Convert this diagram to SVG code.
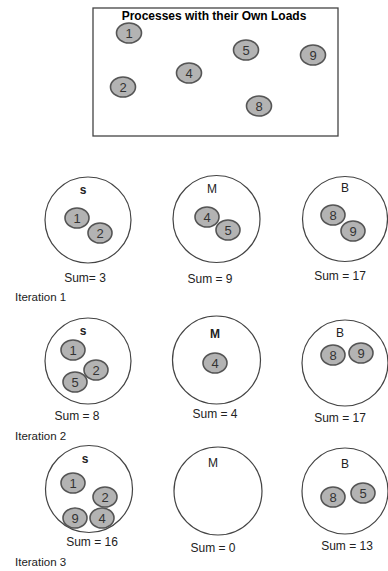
<svg xmlns="http://www.w3.org/2000/svg" width="388" height="571" viewBox="0 0 388 571">
<style>
  text { font-family: "Liberation Sans", Arial, sans-serif; fill: #222; }
  .title { font-size: 12px; font-weight: bold; text-anchor: middle; fill: #000; }
  .box { fill: #fff; stroke: #444; stroke-width: 1.3; }
  .group { fill: #fff; stroke: #444; stroke-width: 1.2; }
  .proc { fill: #b3b3b3; stroke: #555; stroke-width: 1.6; }
  .num { font-size: 13px; text-anchor: middle; fill: #333; }
  .lbl { font-size: 12px; text-anchor: middle; }
  .lblb { font-size: 12px; text-anchor: middle; font-weight: bold; }
  .sum { font-size: 12px; text-anchor: middle; }
  .iter { font-size: 11.5px; }
</style>
<rect width="388" height="571" fill="#fff"/>

<g id="pool">
  <rect class="box" x="93" y="8" width="245" height="128"/>
  <text class="title" x="214" y="20">Processes with their Own Loads</text>
  <g id="pool-p1"><ellipse class="proc" cx="129" cy="33" rx="12.5" ry="10"/><text class="num" x="129" y="37.5">1</text></g>
  <g id="pool-p5"><ellipse class="proc" cx="246" cy="50" rx="12.5" ry="10"/><text class="num" x="246" y="54.5">5</text></g>
  <g id="pool-p9"><ellipse class="proc" cx="313" cy="55" rx="12.5" ry="10"/><text class="num" x="313" y="59.5">9</text></g>
  <g id="pool-p4"><ellipse class="proc" cx="189" cy="73" rx="12.5" ry="10"/><text class="num" x="189" y="77.5">4</text></g>
  <g id="pool-p2"><ellipse class="proc" cx="123" cy="87" rx="12.5" ry="10"/><text class="num" x="123" y="91.5">2</text></g>
  <g id="pool-p8"><ellipse class="proc" cx="259" cy="106" rx="12.5" ry="10"/><text class="num" x="259" y="110.5">8</text></g>
</g>

<g id="connectors"></g>

<!-- Iteration 1 -->
<g id="it1-S">
  <circle class="group" cx="88" cy="220" r="43"/>
  <text class="lblb" x="83" y="194">s</text>
  <ellipse class="proc" cx="77" cy="218" rx="12" ry="10"/><text class="num" x="77" y="222.5">1</text>
  <ellipse class="proc" cx="100" cy="233" rx="12" ry="10"/><text class="num" x="100" y="237.5">2</text>
  <text class="sum" x="85" y="282">Sum= 3</text>
</g>
<g id="it1-M">
  <circle class="group" cx="216.5" cy="219" r="43.5"/>
  <text class="lbl" x="212" y="193">M</text>
  <ellipse class="proc" cx="207" cy="217" rx="12" ry="10"/><text class="num" x="207" y="221.5">4</text>
  <ellipse class="proc" cx="228" cy="230" rx="12" ry="10"/><text class="num" x="228" y="234.5">5</text>
  <text class="sum" x="210" y="283">Sum = 9</text>
</g>
<g id="it1-B">
  <circle class="group" cx="345" cy="219" r="42.5"/>
  <text class="lbl" x="345" y="192">B</text>
  <ellipse class="proc" cx="333" cy="215" rx="12" ry="10"/><text class="num" x="333" y="219.5">8</text>
  <ellipse class="proc" cx="353" cy="231" rx="12" ry="10"/><text class="num" x="353" y="235.5">9</text>
  <text class="sum" x="340" y="280">Sum = 17</text>
</g>
<text class="iter" x="15" y="301">Iteration 1</text>

<!-- Iteration 2 -->
<g id="it2-S">
  <circle class="group" cx="88" cy="361" r="43"/>
  <text class="lblb" x="83" y="335">s</text>
  <ellipse class="proc" cx="73" cy="350" rx="12" ry="10"/><text class="num" x="73" y="354.5">1</text>
  <ellipse class="proc" cx="96" cy="370" rx="12" ry="10"/><text class="num" x="96" y="374.5">2</text>
  <ellipse class="proc" cx="75" cy="382" rx="12" ry="10"/><text class="num" x="75" y="386.5">5</text>
  <text class="sum" x="77" y="420">Sum = 8</text>
</g>
<g id="it2-M">
  <circle class="group" cx="216.5" cy="360" r="44"/>
  <text class="lblb" x="215" y="338">M</text>
  <ellipse class="proc" cx="215" cy="363" rx="12" ry="10"/><text class="num" x="215" y="367.5">4</text>
  <text class="sum" x="215" y="418">Sum = 4</text>
</g>
<g id="it2-B">
  <circle class="group" cx="345" cy="363" r="43"/>
  <text class="lbl" x="340" y="337">B</text>
  <ellipse class="proc" cx="333" cy="355" rx="12" ry="10"/><text class="num" x="333" y="359.5">8</text>
  <ellipse class="proc" cx="361" cy="353" rx="12" ry="10"/><text class="num" x="361" y="357.5">9</text>
  <text class="sum" x="340" y="422">Sum = 17</text>
</g>
<text class="iter" x="15" y="440">Iteration 2</text>

<!-- Iteration 3 -->
<g id="it3-S">
  <circle class="group" cx="89" cy="489" r="43.5"/>
  <text class="lblb" x="85" y="463">s</text>
  <ellipse class="proc" cx="73" cy="483" rx="12" ry="10"/><text class="num" x="73" y="487.5">1</text>
  <ellipse class="proc" cx="105" cy="497" rx="12" ry="10"/><text class="num" x="105" y="501.5">2</text>
  <ellipse class="proc" cx="75" cy="518" rx="12" ry="10"/><text class="num" x="75" y="522.5">9</text>
  <ellipse class="proc" cx="102" cy="518" rx="12" ry="10"/><text class="num" x="102" y="522.5">4</text>
  <text class="sum" x="92" y="546">Sum = 16</text>
</g>
<g id="it3-M">
  <circle class="group" cx="218" cy="491" r="44"/>
  <text class="lbl" x="213" y="467">M</text>
  <text class="sum" x="213" y="552">Sum = 0</text>
</g>
<g id="it3-B">
  <circle class="group" cx="345" cy="491" r="43"/>
  <text class="lbl" x="345" y="468">B</text>
  <ellipse class="proc" cx="333" cy="497" rx="12" ry="10"/><text class="num" x="333" y="501.5">8</text>
  <ellipse class="proc" cx="363" cy="493" rx="12" ry="10"/><text class="num" x="363" y="497.5">5</text>
  <text class="sum" x="347" y="550">Sum = 13</text>
</g>
<text class="iter" x="15" y="566">Iteration 3</text>
</svg>
